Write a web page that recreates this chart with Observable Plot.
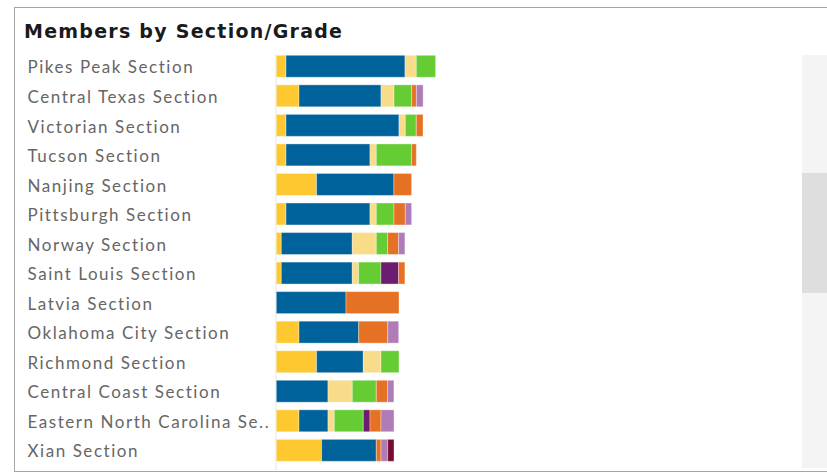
<!DOCTYPE html>
<html>
<head>
<meta charset="utf-8">
<script src="https://cdn.jsdelivr.net/npm/d3@7"></script>
<script src="https://cdn.jsdelivr.net/npm/@observablehq/plot@0.6"></script>
<style>
  html, body { margin: 0; padding: 0; background: #fff; width: 827px; height: 473px; overflow: hidden; }
  #frame { position: absolute; left: 14px; top: 7px; width: 900px; height: 465px; border: 1px solid #a6a6a6; box-sizing: border-box; }
  #title { position: absolute; left: 24px; top: 21.5px; line-height: 19px; font-family: "DejaVu Sans", Verdana, sans-serif; font-weight: bold; font-size: 19px; letter-spacing: 1.25px; color: #1a1a1a; white-space: nowrap; }
  #chart { position: absolute; left: 0; top: 45px; }
  #track { position: absolute; left: 802px; top: 55px; width: 25px; height: 413px; background: #f4f4f4; }
  #thumb { position: absolute; left: 802px; top: 173px; width: 25px; height: 120px; background: #dedede; }
</style>
</head>
<body>
<div id="frame"></div>
<div id="title">Members by Section/Grade</div>
<div id="track"></div>
<div id="thumb"></div>
<div id="chart"></div>
<script>
const sections = [
  "Pikes Peak Section", "Central Texas Section", "Victorian Section", "Tucson Section",
  "Nanjing Section", "Pittsburgh Section", "Norway Section", "Saint Louis Section",
  "Latvia Section", "Oklahoma City Section", "Richmond Section", "Central Coast Section",
  "Eastern North Carolina Section", "Xian Section"
];
const grades = ["Associate", "Full", "Senior", "Student", "Retired", "Site", "Emeritus", "Fellow"];
const gradeColors = ["#FDC830", "#00629B", "#F8DC8A", "#66CC33", "#6C1D72", "#E57224", "#B07CB8", "#7A0A2E"];

const associate = [9.7, 22.7, 9.7, 9.7, 40.3, 9.7, 5, 5, 0, 22.7, 40.3, 0, 22.7, 45.3];
const full      = [119, 82, 113, 84, 77.3, 84, 71, 71, 69.7, 59.7, 46.7, 51.7, 29, 54.7];
const senior    = [11.3, 13, 6.3, 6.3, 0, 6.3, 24, 6.3, 0, 0, 17.7, 24.3, 6.3, 0];
const student   = [19.3, 17.7, 11, 35.3, 0, 17.7, 11.3, 22.3, 0, 0, 18, 24, 29, 0];
const retired   = [0, 0, 0, 0, 0, 0, 0, 17.7, 0, 0, 0, 0, 6.7, 0];
const site      = [0, 4.7, 6.7, 4.7, 17.7, 11.3, 11, 6.3, 53, 29, 0, 11.3, 11, 4.7];
const emeritus  = [0, 6.7, 0, 0, 0, 6.3, 6.3, 0, 0, 11, 0, 6.3, 13, 6.7];
const fellow    = [0, 0, 0, 0, 0, 0, 0, 0, 0, 0, 0, 0, 0, 6.3];

const series = [associate, full, senior, student, retired, site, emeritus, fellow];
const rows = [];
sections.forEach((s, i) => {
  grades.forEach((g, j) => {
    const v = series[j][i];
    if (v > 0) rows.push({section: s, grade: g, members: v});
  });
});

const chart = Plot.plot({
  width: 800,
  height: 428,
  marginTop: 6.5,
  marginBottom: 7.9,
  marginLeft: 276.3,
  marginRight: 23.7,
  style: {background: "transparent", fontFamily: "Lato, 'Open Sans', sans-serif", letterSpacing: "1.55px"},
  x: {domain: [0, 500], axis: null},
  y: {domain: sections, padding: 0, round: false, label: null},
  color: {domain: grades, range: gradeColors},
  marks: [
    Plot.ruleX([0], {stroke: "#eeeeee", strokeWidth: 1.5, dx: -0.8, insetTop: 2.5, insetBottom: -5.5}),
    Plot.barX(rows, Plot.stackX({
      y: "section", x: "members", fill: "grade", order: grades,
      insetTop: 3.8, insetBottom: 3.8,
      stroke: "white", strokeOpacity: 0.35, strokeWidth: 1
    })),
    Plot.axisY({
      tickSize: 0, tickPadding: 0, textAnchor: "start", dx: -249.3, dy: 1.2,
      fontSize: 17, fill: "#666666", label: null,
      tickFormat: d => d.length > 26 ? d.slice(0, 25) + ".." : d
    })
  ]
});
document.getElementById("chart").appendChild(chart);
</script>
</body>
</html>
